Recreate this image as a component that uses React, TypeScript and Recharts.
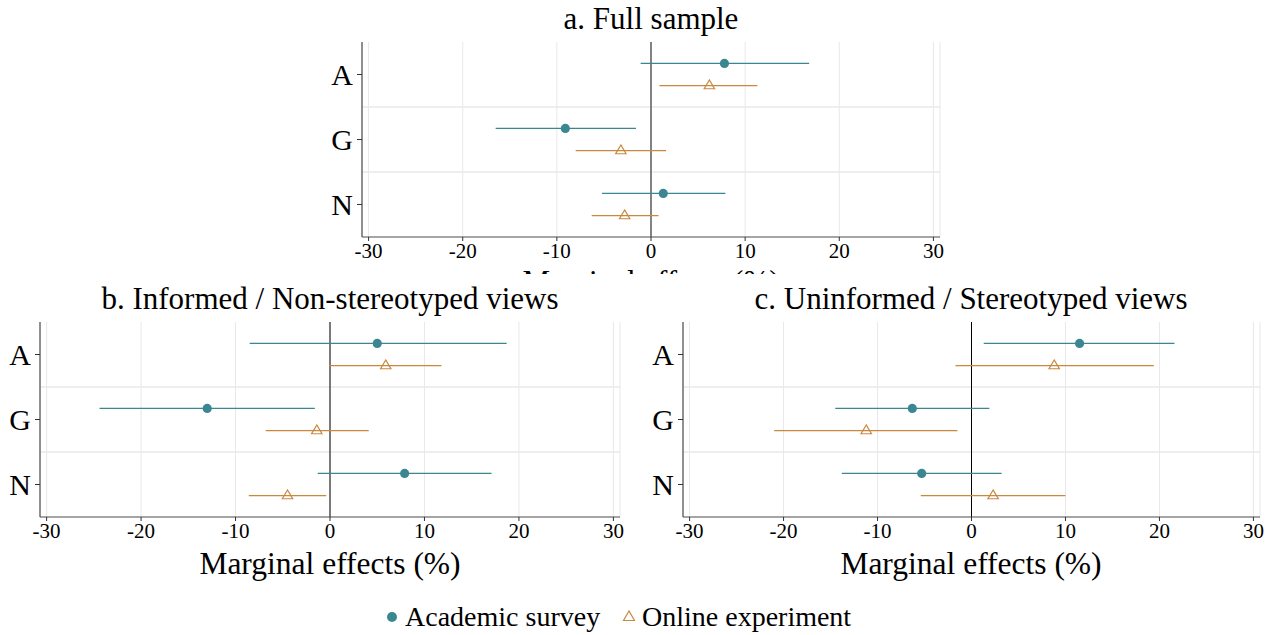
import { ScatterChart, Scatter, XAxis, YAxis, CartesianGrid, ReferenceLine, ErrorBar } from 'recharts';

const FONT = '"Liberation Serif", "Times New Roman", serif';
const TEAL = '#3a8791';
const ORANGE = '#c8893f';

const CATEGORIES = ['A', 'G', 'N'];
const X_TICKS = [-30, -20, -10, 0, 10, 20, 30];

// a. Full sample
const FULL_ACADEMIC_EST = [7.8, -9.1, 1.3];
const FULL_ACADEMIC_LO = [-1.1, -16.5, -5.2];
const FULL_ACADEMIC_HI = [16.8, -1.6, 7.9];
const FULL_ONLINE_EST = [6.2, -3.2, -2.8];
const FULL_ONLINE_LO = [0.9, -8.0, -6.3];
const FULL_ONLINE_HI = [11.3, 1.6, 0.8];

// b. Informed / Non-stereotyped views
const INF_ACADEMIC_EST = [5.0, -13.0, 7.9];
const INF_ACADEMIC_LO = [-8.5, -24.4, -1.3];
const INF_ACADEMIC_HI = [18.7, -1.6, 17.1];
const INF_ONLINE_EST = [5.9, -1.4, -4.5];
const INF_ONLINE_LO = [-0.1, -6.8, -8.6];
const INF_ONLINE_HI = [11.8, 4.1, -0.4];

// c. Uninformed / Stereotyped views
const UNI_ACADEMIC_EST = [11.5, -6.3, -5.3];
const UNI_ACADEMIC_LO = [1.3, -14.5, -13.8];
const UNI_ACADEMIC_HI = [21.6, 1.9, 3.2];
const UNI_ONLINE_EST = [8.8, -11.2, 2.3];
const UNI_ONLINE_LO = [-1.7, -21.0, -5.4];
const UNI_ONLINE_HI = [19.4, -1.5, 10.0];

const DODGE = 0.17;

interface Point {
  x: number;
  y: number;
  err: [number, number];
}

function buildSeries(est: number[], lo: number[], hi: number[], shift: number): Point[] {
  return est.map((v, i) => ({
    x: v,
    y: i + 1 + shift,
    err: [v - lo[i], hi[i] - v],
  }));
}

function Dot(props: any) {
  const { cx, cy } = props;
  if (cx == null || cy == null) return null;
  return <circle cx={cx} cy={cy} r={4.6} fill={TEAL} />;
}

function Tri(props: any) {
  const { cx, cy } = props;
  if (cx == null || cy == null) return null;
  const pts = `${cx},${cy - 5.6} ${cx - 5.2},${cy + 3.2} ${cx + 5.2},${cy + 3.2}`;
  return <polygon points={pts} fill="none" stroke={ORANGE} strokeWidth={1.2} />;
}

interface PanelProps {
  plotLeft: number;
  plotTop: number;
  plotWidth: number;
  plotHeight: number;
  academic: Point[];
  online: Point[];
  zeroColor: string;
  zeroWidth: number;
}

function Panel({ plotLeft, plotTop, plotWidth, plotHeight, academic, online, zeroColor, zeroWidth }: PanelProps) {
  const yAxisW = 60;
  const width = plotWidth + yAxisW + 5;
  const height = plotHeight + 10 + 40;
  return (
    <div style={{ position: 'absolute', left: plotLeft - yAxisW, top: plotTop - 10 }}>
      <ScatterChart width={width} height={height} margin={{ top: 10, right: 5, left: 0, bottom: 10 }}>
        <CartesianGrid horizontal={false} stroke="#e8e8e8" strokeWidth={1} />
        <XAxis
          type="number"
          dataKey="x"
          domain={[-30.7, 30.7]}
          ticks={X_TICKS}
          allowDataOverflow
          height={30}
          tickSize={4}
          tickMargin={2}
          tick={{ fill: '#000', fontSize: 21, fontFamily: FONT }}
          tickLine={{ stroke: '#333' }}
          axisLine={{ stroke: '#4d4d4d', strokeWidth: 1.2 }}
        />
        <YAxis
          type="number"
          dataKey="y"
          domain={[0.5, 3.5]}
          ticks={[1, 2, 3]}
          reversed
          allowDataOverflow
          width={yAxisW}
          tickSize={5}
          tickMargin={4}
          tickFormatter={(v: number) => CATEGORIES[v - 1]}
          tick={{ fill: '#000', fontSize: 30, fontFamily: FONT }}
          tickLine={{ stroke: '#333' }}
          axisLine={{ stroke: '#4d4d4d', strokeWidth: 1.2 }}
        />
        <ReferenceLine y={1.5} stroke="#e8e8e8" strokeWidth={1.5} />
        <ReferenceLine y={2.5} stroke="#e8e8e8" strokeWidth={1.5} />
        <ReferenceLine x={0} stroke={zeroColor} strokeWidth={zeroWidth} />
        <Scatter data={academic} shape={<Dot />} isAnimationActive={false}>
          <ErrorBar dataKey="err" direction="x" width={0} stroke={TEAL} strokeWidth={1.3} />
        </Scatter>
        <Scatter data={online} shape={<Tri />} isAnimationActive={false}>
          <ErrorBar dataKey="err" direction="x" width={0} stroke={ORANGE} strokeWidth={1.3} />
        </Scatter>
      </ScatterChart>
    </div>
  );
}

export default function App() {
  const fullAcademic = buildSeries(FULL_ACADEMIC_EST, FULL_ACADEMIC_LO, FULL_ACADEMIC_HI, -DODGE);
  const fullOnline = buildSeries(FULL_ONLINE_EST, FULL_ONLINE_LO, FULL_ONLINE_HI, DODGE);
  const infAcademic = buildSeries(INF_ACADEMIC_EST, INF_ACADEMIC_LO, INF_ACADEMIC_HI, -DODGE);
  const infOnline = buildSeries(INF_ONLINE_EST, INF_ONLINE_LO, INF_ONLINE_HI, DODGE);
  const uniAcademic = buildSeries(UNI_ACADEMIC_EST, UNI_ACADEMIC_LO, UNI_ACADEMIC_HI, -DODGE);
  const uniOnline = buildSeries(UNI_ONLINE_EST, UNI_ONLINE_LO, UNI_ONLINE_HI, DODGE);

  return (
    <div style={{ position: 'absolute', left: 0, top: 0, width: 1276, height: 635, background: '#fff', overflow: 'hidden' }}>
      <Panel plotLeft={362} plotTop={42} plotWidth={578} plotHeight={195}
        academic={fullAcademic} online={fullOnline} zeroColor="#666" zeroWidth={1.6} />
      <Panel plotLeft={40} plotTop={322} plotWidth={580} plotHeight={195}
        academic={infAcademic} online={infOnline} zeroColor="#000" zeroWidth={1} />
      <Panel plotLeft={683} plotTop={322} plotWidth={577} plotHeight={195}
        academic={uniAcademic} online={uniOnline} zeroColor="#000" zeroWidth={1} />

      <svg width={1276} height={635} style={{ position: 'absolute', left: 0, top: 0, pointerEvents: 'none' }}>
        <defs>
          <clipPath id="topClip">
            <rect x={0} y={0} width={1276} height={274} />
          </clipPath>
        </defs>
        <g fontFamily={FONT} fill="#000" textAnchor="middle">
          <text x={651} y={29} fontSize={31}>a. Full sample</text>
          <text x={651} y={292} fontSize={31} clipPath="url(#topClip)">Marginal effects (%)</text>
          <text x={330} y={309} fontSize={31}>b. Informed / Non-stereotyped views</text>
          <text x={971} y={309} fontSize={31}>c. Uninformed / Stereotyped views</text>
          <text x={330} y={574} fontSize={31.5}>Marginal effects (%)</text>
          <text x={971} y={574} fontSize={31.5}>Marginal effects (%)</text>
        </g>
        <circle cx={392} cy={617} r={5} fill={TEAL} />
        <polygon points="629,611 623.5,620.5 634.5,620.5" fill="none" stroke={ORANGE} strokeWidth={1.2} />
        <g fontFamily={FONT} fill="#000" fontSize={28}>
          <text x={405} y={626}>Academic survey</text>
          <text x={642} y={626}>Online experiment</text>
        </g>
      </svg>
    </div>
  );
}
